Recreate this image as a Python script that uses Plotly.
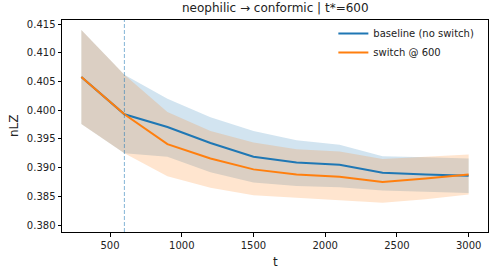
import plotly.graph_objects as go

# ---- data ----
t = [300, 600, 900, 1200, 1500, 1800, 2100, 2400, 2700, 3000]
T_STAR = 600

baseline_mean = [0.4058, 0.3993, 0.3971, 0.3943, 0.3919, 0.3909, 0.3905, 0.3891, 0.3888, 0.3886]
baseline_lo   = [0.3976, 0.3925, 0.3919, 0.3892, 0.3874, 0.3868, 0.3866, 0.3860, 0.3858, 0.3856]
baseline_hi   = [0.4140, 0.4062, 0.4020, 0.3988, 0.3964, 0.3948, 0.3940, 0.3920, 0.3918, 0.3916]

switch_mean = [0.4058, 0.3993, 0.3941, 0.3916, 0.3897, 0.3888, 0.3884, 0.3875, 0.3881, 0.3888]
switch_lo   = [0.3976, 0.3925, 0.3885, 0.3865, 0.3852, 0.3848, 0.3844, 0.3839, 0.3845, 0.3853]
switch_hi   = [0.4140, 0.4062, 0.3997, 0.3964, 0.3944, 0.3932, 0.3928, 0.3915, 0.3919, 0.3923]

labels = ["baseline (no switch)", "switch @ 600"]
title = "neophilic \u2192 conformic | t*=600"

BLUE = "#1f77b4"
ORANGE = "#ff7f0e"
FONT = "DejaVu Sans"

fig = go.Figure()

def band(lo, hi, color):
    fig.add_trace(go.Scatter(x=t, y=hi, mode="lines", line=dict(width=0, color=color),
                             showlegend=False, hoverinfo="skip"))
    fig.add_trace(go.Scatter(x=t, y=lo, mode="lines", line=dict(width=0, color=color),
                             fill="tonexty", fillcolor=color, showlegend=False, hoverinfo="skip"))

band(baseline_lo, baseline_hi, "rgba(31,119,180,0.2)")
band(switch_lo, switch_hi, "rgba(255,127,14,0.2)")

fig.add_trace(go.Scatter(x=t, y=baseline_mean, mode="lines", name=labels[0],
                         line=dict(color=BLUE, width=2)))
fig.add_trace(go.Scatter(x=t, y=switch_mean, mode="lines", name=labels[1],
                         line=dict(color=ORANGE, width=2)))

fig.add_vline(x=T_STAR, line=dict(color="rgba(31,119,180,0.55)", width=1, dash="4px,2px"))

axis_common = dict(showline=True, linecolor="black", linewidth=1, mirror=True,
                   ticks="outside", ticklen=3.5, tickwidth=1, tickcolor="black",
                   showgrid=False, zeroline=False,
                   tickfont=dict(family=FONT, size=10, color="#222"))

fig.update_xaxes(range=[165, 3135], tickvals=[500, 1000, 1500, 2000, 2500, 3000], **axis_common)
fig.update_yaxes(range=[0.37878, 0.41575],
                 tickvals=[0.380, 0.385, 0.390, 0.395, 0.400, 0.405, 0.410, 0.415],
                 tickformat=".3f", **axis_common)

fig.update_layout(
    width=489, height=273,
    margin=dict(l=62, r=1, t=20, b=41),
    paper_bgcolor="white", plot_bgcolor="white",
    font=dict(family=FONT, color="#222"),
    showlegend=True,
    legend=dict(x=0.637, y=1.005, xanchor="left", yanchor="top", traceorder="normal",
                bgcolor="rgba(0,0,0,0)", font=dict(family=FONT, size=10, color="#222"),
                itemwidth=30, tracegroupgap=0),
    annotations=[
        dict(text=title, xref="paper", yref="paper", x=0.5, y=1, yshift=3,
             xanchor="center", yanchor="bottom", showarrow=False,
             font=dict(family=FONT, size=12, color="#222")),
        dict(text="t", xref="paper", yref="paper", x=0.5, y=0, yshift=-21,
             xanchor="center", yanchor="top", showarrow=False,
             font=dict(family=FONT, size=12, color="#222")),
        dict(text="nLZ", xref="paper", yref="paper", x=0, y=0.5, xshift=-48,
             xanchor="center", yanchor="middle", textangle=-90, showarrow=False,
             font=dict(family=FONT, size=12, color="#222")),
    ],
)

fig.write_html("out.html", config={"displayModeBar": False},
               post_script="document.body.style.margin='0';document.body.style.overflow='hidden';")
